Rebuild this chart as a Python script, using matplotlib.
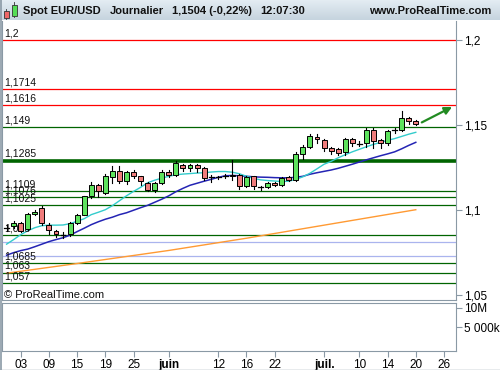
import matplotlib.pyplot as plt
import numpy as np
import pandas as pd
from matplotlib.patches import Rectangle, FancyArrowPatch
import matplotlib.transforms as mtransforms

plt.rcParams['font.family'] = ['Liberation Sans', 'DejaVu Sans']

# ---------------- data ----------------
start_day = '2017-05-01'
last_day = '2017-07-26'

opens = [1.0893, 1.0902, 1.0922, 1.0884, 1.0974, 1.1008, 1.0911, 1.0873, 1.0856, 1.0855,
         1.0921, 1.0970, 1.1078, 1.1146, 1.1100, 1.1195, 1.1228, 1.1168, 1.1222, 1.1196,
         1.1160, 1.1115, 1.1160, 1.1225, 1.1203, 1.1265, 1.1247, 1.1265, 1.1245, 1.1190,
         1.1190, 1.1194, 1.1198, 1.1205, 1.1140, 1.1196, 1.1133, 1.1135, 1.1160, 1.1145,
         1.1190, 1.1178, 1.1326, 1.1369, 1.1431, 1.1412, 1.1366, 1.1357, 1.1343, 1.1416,
         1.1392, 1.1396, 1.1470, 1.1412, 1.1396, 1.1470, 1.1467, 1.1543, 1.1524]
closes = [1.0893, 1.0922, 1.0874, 1.0972, 1.0987, 1.0920, 1.0882, 1.0854, 1.0852, 1.0921,
          1.0970, 1.1078, 1.1146, 1.1108, 1.1200, 1.1228, 1.1168, 1.1220, 1.1197, 1.1168,
          1.1115, 1.1160, 1.1225, 1.1203, 1.1275, 1.1247, 1.1265, 1.1245, 1.1186, 1.1190,
          1.1194, 1.1198, 1.1202, 1.1142, 1.1190, 1.1138, 1.1131, 1.1160, 1.1147, 1.1186,
          1.1175, 1.1329, 1.1369, 1.1435, 1.1416, 1.1363, 1.1347, 1.1337, 1.1416, 1.1392,
          1.1390, 1.1470, 1.1406, 1.1396, 1.1465, 1.1470, 1.1539, 1.1525, 1.1504]
highs = [1.0912, 1.0932, 1.0928, 1.0978, 1.0996, 1.1022, 1.0924, 1.0880, 1.0870, 1.0926,
         1.0976, 1.1082, 1.1165, 1.1152, 1.1210, 1.1259, 1.1259, 1.1226, 1.1232, 1.1200,
         1.1162, 1.1163, 1.1232, 1.1232, 1.1286, 1.1270, 1.1270, 1.1270, 1.1250, 1.1205,
         1.1200, 1.1210, 1.1290, 1.1210, 1.1198, 1.1200, 1.1140, 1.1165, 1.1166, 1.1190,
         1.1198, 1.1340, 1.1382, 1.1445, 1.1445, 1.1416, 1.1372, 1.1362, 1.1420, 1.1425,
         1.1405, 1.1480, 1.1480, 1.1416, 1.1470, 1.1480, 1.1582, 1.1549, 1.1530]
lows = [1.0872, 1.0895, 1.0866, 1.0878, 1.0966, 1.0912, 1.0858, 1.0838, 1.0836, 1.0848,
        1.0915, 1.0966, 1.1068, 1.1072, 1.1095, 1.1157, 1.1160, 1.1150, 1.1188, 1.1146,
        1.1108, 1.1103, 1.1153, 1.1195, 1.1198, 1.1228, 1.1228, 1.1225, 1.1178, 1.1165,
        1.1180, 1.1185, 1.1178, 1.1122, 1.1135, 1.1122, 1.1118, 1.1128, 1.1140, 1.1140,
        1.1168, 1.1170, 1.1300, 1.1362, 1.1396, 1.1348, 1.1328, 1.1322, 1.1322, 1.1374,
        1.1374, 1.1368, 1.1364, 1.1364, 1.1384, 1.1452, 1.1462, 1.1506, 1.1500]

ma_short = [1.0797, 1.0824, 1.0853, 1.0876, 1.0894, 1.0906, 1.0909, 1.0909, 1.0910, 1.0918,
            1.0932, 1.0947, 1.0971, 1.0985, 1.1000, 1.1024, 1.1053, 1.1082, 1.1108, 1.1132,
            1.1159, 1.1174, 1.1186, 1.1197, 1.1206, 1.1210, 1.1213, 1.1216, 1.1218, 1.1222,
            1.1225, 1.1225, 1.1221, 1.1212, 1.1197, 1.1185, 1.1176, 1.1172, 1.1169, 1.1166,
            1.1168, 1.1179, 1.1194, 1.1215, 1.1241, 1.1268, 1.1285, 1.1306, 1.1324, 1.1341,
            1.1356, 1.1371, 1.1385, 1.1397, 1.1409, 1.1419, 1.1432, 1.1445, 1.1456]
ma_mid = [1.0732, 1.0747, 1.0759, 1.0768, 1.0782, 1.0797, 1.0812, 1.0824, 1.0835, 1.0850,
          1.0871, 1.0891, 1.0912, 1.0929, 1.0944, 1.0956, 1.0971, 1.0982, 1.0997, 1.1012,
          1.1026, 1.1044, 1.1062, 1.1082, 1.1106, 1.1126, 1.1144, 1.1156, 1.1168, 1.1179,
          1.1191, 1.1200, 1.1202, 1.1200, 1.1197, 1.1194, 1.1192, 1.1191, 1.1189, 1.1188,
          1.1188, 1.1191, 1.1197, 1.1209, 1.1218, 1.1226, 1.1234, 1.1244, 1.1256, 1.1268,
          1.1281, 1.1294, 1.1306, 1.1318, 1.1329, 1.1341, 1.1359, 1.1379, 1.1397]
# long average, read at a few days
ma_long_idx = [0, 10, 23, 34, 46, 58]
ma_long = [1.0626, 1.0683, 1.0760, 1.0832, 1.0916, 1.1000]

red_levels = [1.2, 1.1714, 1.1616]
red_labels = ['1,2', '1,1714', '1,1616']
green_levels = [1.149, 1.1285, 1.1109, 1.1076, 1.1025, 1.085, 1.0685, 1.063, 1.057]
green_labels = ['1,149', '1,1285', '1,1109', '1,1076', '1,1025', '1,085', '1,0685', '1,063', '1,057']
blue_levels = [1.0808, 1.0727]

price_ticks = [1.05, 1.1, 1.15, 1.2]
price_tick_labels = ['1,05', '1,1', '1,15', '1,2']
vol_ticks = [5e6, 10e6]
vol_tick_labels = ['5 000k', '10M']
date_ticks = ['2017-05-03', '2017-05-09', '2017-05-15', '2017-05-19', '2017-05-25',
              '2017-06-01', '2017-06-12', '2017-06-16', '2017-06-22', '2017-07-03',
              '2017-07-10', '2017-07-14', '2017-07-20', '2017-07-26']
date_tick_labels = ['03', '09', '15', '19', '25', 'juin', '12', '16', '22', 'juil.',
                    '10', '14', '20', '26']

# ---------------- figure layout in pixels ----------------
W, H = 500, 370
fig = plt.figure(figsize=(5, 3.7), dpi=100)
fig.patch.set_facecolor('white')


def px_axes(x0, y0, x1, y1):
    return fig.add_axes([x0 / W, 1 - y1 / H, (x1 - x0) / W, (y1 - y0) / H])


def px_text(x, y, s, **kw):
    fig.text(x / W, 1 - y / H, s, **kw)


frame_col = '#8a99a5'
days = pd.bdate_range(start_day, last_day)
pos = {d.strftime('%Y-%m-%d'): k for k, d in enumerate(days)}
xlim = (-0.65, 63.7)

# header bar
hdr = px_axes(0, 0, 500, 20)
grad = np.linspace(0, 1, 20).reshape(-1, 1)
hdr.imshow(grad, aspect='auto', extent=(0, 500, 20, 0),
           cmap=plt.matplotlib.colors.LinearSegmentedColormap.from_list('h', ['#e3ecf2', '#c6d4df']))
hdr.set_xlim(0, 500)
hdr.set_ylim(20, 0)
hdr.axis('off')
hdr.add_patch(Rectangle((3.5, 10.5), 5, 7, facecolor='#ee6666', edgecolor='#333333', lw=0.6))
hdr.plot([6, 6], [9, 19], color='#333333', lw=0.6, zorder=0)
hdr.add_patch(Rectangle((11.5, 4.5), 5, 11, facecolor='#55dd55', edgecolor='#333333', lw=0.6))
hdr.plot([14, 14], [2, 17], color='#333333', lw=0.6, zorder=0)
hkw = dict(fontsize=8, fontweight='bold', va='center', color='#111111')
px_text(23, 10.5, 'Spot EUR/USD', **hkw)
px_text(110, 10.5, 'Journalier', **hkw)
px_text(172, 10.5, '1,1504 (-0,22%)', **hkw)
px_text(260, 10.5, '12:07:30', **hkw)
px_text(491, 10.5, 'www.ProRealTime.com', ha='right', **hkw)

# price panel
ax = px_axes(2, 21, 456, 300)
ax.set_xlim(*xlim)
ax.set_ylim(1.0468, 1.2112)
trans = mtransforms.blended_transform_factory(ax.transAxes, ax.transData)

for lv, lb in zip(red_levels, red_labels):
    ax.axhline(lv, color='#ff0000', lw=0.9, zorder=1)
    ax.text(0.004, lv + 0.0009, lb, transform=trans, fontsize=7.5, va='bottom', color='#111111')
for lv, lb in zip(green_levels, green_labels):
    ax.axhline(lv, color='#006400', lw=2.6 if lv == 1.1285 else 0.9, zorder=1)
    ax.text(0.004, lv + (0.0014 if lv == 1.1285 else 0.0009), lb, transform=trans,
            fontsize=7.5, va='bottom', color='#111111')
for lv in blue_levels:
    ax.axhline(lv, color='#aab4ee', lw=0.9, zorder=1)

x = np.arange(len(closes))
ax.plot(ma_long_idx, ma_long, color='#ff9a33', lw=1.0, zorder=2)
ax.plot(x, ma_mid, color='#2424b4', lw=1.1, zorder=2)
ax.plot(x, ma_short, color='#33cccc', lw=1.0, zorder=2)

for k in range(len(closes)):
    o, c, hi, lo = opens[k], closes[k], highs[k], lows[k]
    ax.plot([k, k], [lo, hi], color='black', lw=0.8, zorder=3)
    if abs(c - o) < 0.0004:
        ax.plot([k - 0.35, k + 0.35], [c, c], color='black', lw=0.9, zorder=4)
    else:
        col = '#5ee35e' if c > o else '#f07c7c'
        ax.add_patch(Rectangle((k - 0.35, min(o, c)), 0.7, abs(c - o),
                               facecolor=col, edgecolor='black', lw=0.7, zorder=4))

arrow = FancyArrowPatch((58.5, 1.1507), (63.5, 1.1613), arrowstyle='-|>',
                        mutation_scale=11, lw=1.6, color='#228b22', zorder=5)
ax.add_patch(arrow)

ax.text(0.004, 1.0496, '\u00a9 ProRealTime.com', transform=trans, fontsize=8,
        va='center', color='#111111')

ax.yaxis.tick_right()
ax.set_yticks(price_ticks)
ax.set_yticklabels(price_tick_labels)
ax.set_xticks([])
ax.tick_params(axis='y', direction='out', length=4, color=frame_col, labelsize=8.5, pad=2)
for s in ax.spines.values():
    s.set_color(frame_col)
ax.spines['top'].set_visible(False)

# volume panel (empty)
vax = px_axes(2, 303, 456, 351)
vax.set_xlim(*xlim)
vax.set_ylim(-1.3e6, 11.3e6)
vax.yaxis.tick_right()
vax.set_yticks(vol_ticks)
vax.set_yticklabels(vol_tick_labels)
vax.set_xticks([pos[d] for d in date_ticks])
vax.set_xticklabels(date_tick_labels)
for t, lb in zip(vax.get_xticklabels(), date_tick_labels):
    if not lb.isdigit():
        t.set_fontweight('bold')
vax.tick_params(axis='both', direction='out', length=4, color=frame_col, labelsize=8.5, pad=1.5)
for s in vax.spines.values():
    s.set_color(frame_col)

# outer border
fig.add_artist(plt.Line2D([0.5 / W, 0.5 / W], [0, 1], color=frame_col, lw=1.2))
fig.add_artist(plt.Line2D([0, 1], [0.5 / H, 0.5 / H], color=frame_col, lw=1.0))

fig.savefig('out.png', dpi=100, facecolor='white')
